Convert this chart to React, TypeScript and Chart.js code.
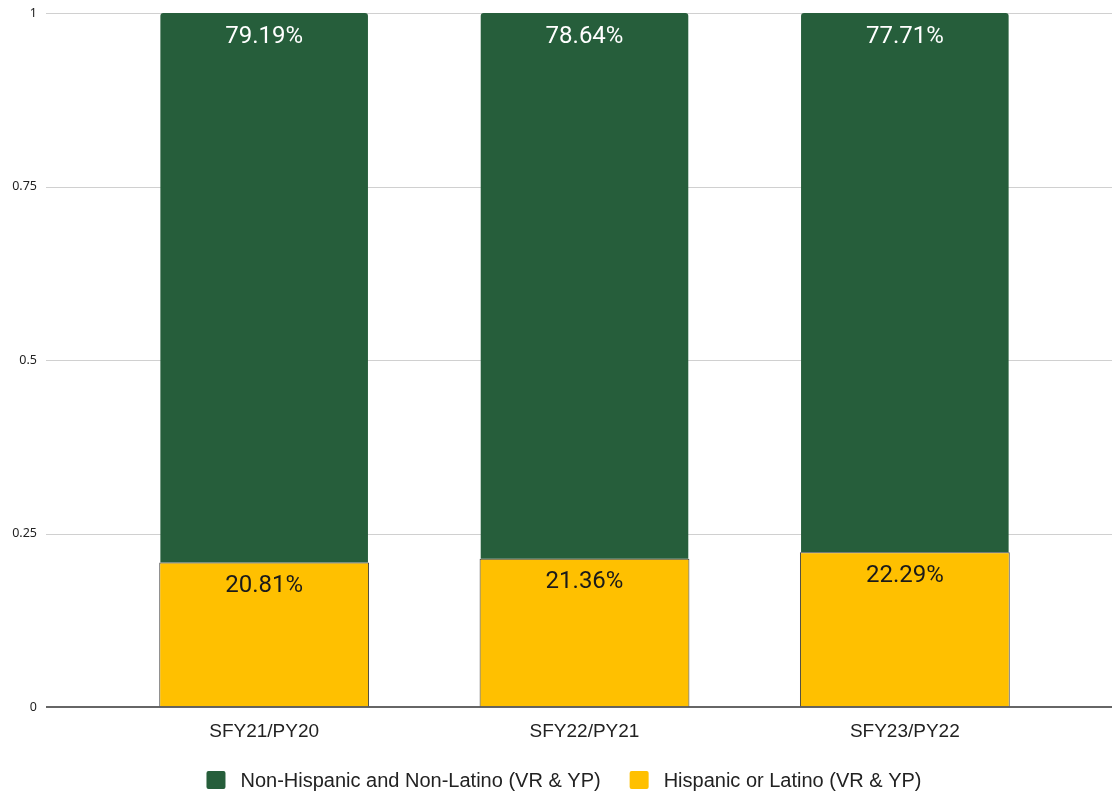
import React, { useEffect, useRef } from "react";
import { Chart, registerables } from "chart.js";

Chart.register(...registerables);

const categories = ["SFY21/PY20", "SFY22/PY21", "SFY23/PY22"];
const hispanicValues = [0.2081, 0.2136, 0.2229];
const nonHispanicValues = [0.7919, 0.7864, 0.7771];
const seriesNames = ["Hispanic or Latino (VR & YP)", "Non-Hispanic and Non-Latino (VR & YP)"];
const yTickValues = [0, 0.25, 0.5, 0.75, 1];
const yTickLabels = ["0", "0.25", "0.5", "0.75", "1"];

const GREEN = "#265e3b";
const YELLOW = "#ffc000";

// horizontal grid lines that run the full width of the canvas
const gridPlugin = {
  id: "fullGrid",
  beforeDatasetsDraw(chart: any) {
    const { ctx, scales } = chart;
    const y = scales.y;
    ctx.save();
    ctx.strokeStyle = "#d0d0d0";
    ctx.lineWidth = 1;
    yTickValues.forEach((v) => {
      if (v === 0) return;
      const py = Math.round(y.getPixelForValue(v)) + 0.5;
      ctx.beginPath();
      ctx.moveTo(46, py);
      ctx.lineTo(chart.width, py);
      ctx.stroke();
    });
    ctx.restore();
  },
  afterDatasetsDraw(chart: any) {
    const { ctx, scales } = chart;
    const py = scales.y.getPixelForValue(0);
    ctx.save();
    ctx.strokeStyle = "#333333";
    ctx.lineWidth = 1.5;
    ctx.beginPath();
    ctx.moveTo(46, py);
    ctx.lineTo(chart.width, py);
    ctx.stroke();
    ctx.restore();
  },
};

// percentage labels near the top of each segment
const valueLabelPlugin = {
  id: "valueLabels",
  afterDatasetsDraw(chart: any) {
    const { ctx } = chart;
    ctx.save();
    ctx.font = "24px Roboto";
    ctx.textAlign = "center";
    ctx.textBaseline = "middle";
    chart.data.datasets.forEach((ds: any, di: number) => {
      const meta = chart.getDatasetMeta(di);
      meta.data.forEach((bar: any, i: number) => {
        const v = ds.data[i] as number;
        ctx.fillStyle = ds.labelColor;
        ctx.fillText((v * 100).toFixed(2) + "%", bar.x, bar.y + 23.5);
      });
    });
    ctx.restore();
  },
};

// legend row under the axis labels
const legendPlugin = {
  id: "bottomLegend",
  afterDraw(chart: any) {
    const { ctx } = chart;
    const order = [1, 0];
    const boxW = 19;
    const boxH = 18;
    const gap = 15;
    const itemGap = 29;
    const cy = 780;
    ctx.save();
    ctx.font = "20px 'Liberation Sans', Arial, sans-serif";
    const widths = order.map((di) => ctx.measureText(chart.data.datasets[di].label).width);
    const total = widths.reduce((a, w) => a + boxW + gap + w, 0) + itemGap * (order.length - 1);
    let x = 564 - total / 2;
    order.forEach((di, k) => {
      const ds = chart.data.datasets[di];
      ctx.fillStyle = ds.backgroundColor;
      ctx.beginPath();
      (ctx as any).roundRect(x, cy - boxH / 2, boxW, boxH, 2);
      ctx.fill();
      x += boxW + gap;
      ctx.fillStyle = "#222222";
      ctx.textAlign = "left";
      ctx.textBaseline = "middle";
      ctx.fillText(ds.label, x, cy + 1);
      x += widths[k] + itemGap;
    });
    ctx.restore();
  },
};

export default function App() {
  const canvasRef = useRef<HTMLCanvasElement | null>(null);

  useEffect(() => {
    if (!canvasRef.current) return;
    const chart = new Chart(canvasRef.current, {
      type: "bar",
      data: {
        labels: categories,
        datasets: [
          {
            label: seriesNames[0],
            data: hispanicValues,
            backgroundColor: YELLOW,
            borderColor: "#3a3a3a",
            borderWidth: { top: 1, left: 1, right: 1, bottom: 0 },
            borderSkipped: false,
            barPercentage: 0.655,
            labelColor: "#1a1a1a",
          } as any,
          {
            label: seriesNames[1],
            data: nonHispanicValues,
            backgroundColor: GREEN,
            borderWidth: 0,
            borderRadius: { topLeft: 3, topRight: 3, bottomLeft: 0, bottomRight: 0 },
            borderSkipped: false,
            barPercentage: 0.648,
            labelColor: "#ffffff",
          } as any,
        ],
      },
      options: {
        responsive: false,
        animation: false,
        layout: { padding: { top: 0, right: 47, left: 0, bottom: 48.2 } },
        plugins: {
          legend: { display: false },
          tooltip: { enabled: false },
        },
        datasets: { bar: { categoryPercentage: 1 } },
        scales: {
          x: {
            stacked: true,
            grid: { display: false },
            border: { display: false },
            ticks: {
              padding: 5,
              color: "#222222",
              font: { family: "'Liberation Sans', Arial, sans-serif", size: 19 },
            },
          },
          y: {
            stacked: true,
            min: 0,
            max: 1,
            grid: {
              display: true,
              drawOnChartArea: false,
              drawTicks: true,
              tickLength: 61.5,
              tickColor: "rgba(0,0,0,0)",
            },
            border: { display: false },
            afterBuildTicks(scale: any) {
              scale.ticks = yTickValues.map((v) => ({ value: v }));
            },
            ticks: {
              padding: 5.5,
              color: "#222222",
              font: { family: "'Noto Sans', sans-serif", size: 12.5 },
              callback: (_v: any, i: number) => yTickLabels[i],
            },
            afterFit(scale: any) {
              scale.width = 104;
            },
          },
        },
      },
      plugins: [gridPlugin, valueLabelPlugin, legendPlugin],
    });
    return () => chart.destroy();
  }, []);

  return (
    <div style={{ position: "absolute", left: 0, top: 0, width: 1112, height: 796, background: "#ffffff" }}>
      <canvas ref={canvasRef} width={1112} height={796} style={{ display: "block" }} />
    </div>
  );
}
